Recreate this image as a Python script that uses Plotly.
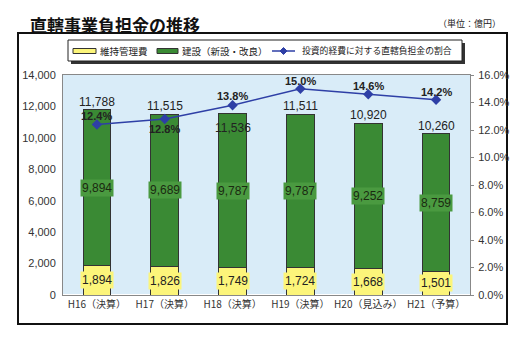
import plotly.graph_objects as go

categories = ["H16（決算）", "H17（決算）", "H18（決算）", "H19（決算）", "H20（見込み）", "H21（予算）"]
maintenance = [1894, 1826, 1749, 1724, 1668, 1501]
construction = [9894, 9689, 9787, 9787, 9252, 8759]
totals = [11788, 11515, 11536, 11511, 10920, 10260]
ratio = [12.4, 12.8, 13.8, 15.0, 14.6, 14.2]
series_names = ["維持管理費", "建設（新設・改良）", "投資的経費に対する直轄負担金の割合"]

W, H = 524, 348
ML, MR, MT, MB = 63, 54, 75, 53
PW, PH = W - ML - MR, H - MT - MB

def px_x(px):
    return (px - ML) / PW

def px_y(py):
    return (H - MB - py) / PH

FONT = "Liberation Sans, Arial, Noto Sans CJK JP"
JP = "Noto Sans CJK JP, Liberation Sans"
YELLOW = "#fcf57a"
GREEN = "#3a8a34"
BLUE = "#2e3fa6"

fig = go.Figure()
fig.add_trace(go.Bar(x=categories, y=maintenance, name=series_names[0],
                     marker=dict(color=YELLOW, line=dict(color="#333333", width=1)),
                     width=0.41))
fig.add_trace(go.Bar(x=categories, y=construction, name=series_names[1],
                     marker=dict(color=GREEN, line=dict(color="#333333", width=1)),
                     width=0.41))
fig.add_trace(go.Scatter(x=categories, y=ratio, name=series_names[2],
                         yaxis="y2", mode="lines+markers",
                         line=dict(color=BLUE, width=1.5),
                         marker=dict(symbol="diamond", size=8, color=BLUE)))

annotations = []
# style offsets (pixels) for label placement
total_shift = [8, 8, -14, 8, 8, 8]
ratio_shift = [9, -10, 9, 8, 8, 8]
for i, c in enumerate(categories):
    annotations.append(dict(x=c, y=totals[i], yref="y", text=f"{totals[i]:,}",
                            showarrow=False, yanchor="middle", yshift=total_shift[i],
                            font=dict(size=12, color="#222222", family=FONT)))
    annotations.append(dict(x=c, y=maintenance[i] + construction[i] / 2, yref="y",
                            text=f"{construction[i]:,}", showarrow=False,
                            bgcolor="#4a9a40", borderpad=1,
                            font=dict(size=12, color="#1a2a10", family=FONT)))
    annotations.append(dict(x=c, y=maintenance[i] / 2, yref="y",
                            text=f"{maintenance[i]:,}", showarrow=False,
                            bgcolor=YELLOW, borderpad=1,
                            font=dict(size=12, color="#222222", family=FONT)))
    annotations.append(dict(x=c, y=ratio[i], yref="y2", text=f"<b>{ratio[i]:.1f}%</b>",
                            showarrow=False, yshift=ratio_shift[i],
                            font=dict(size=11, color="#222222", family=FONT)))

annotations.append(dict(xref="paper", yref="paper", x=px_x(28), y=px_y(25),
                        xanchor="left", yanchor="middle", showarrow=False,
                        text="<b>直轄事業負担金の推移</b>",
                        font=dict(size=17, color="#111111", family=JP)))
annotations.append(dict(xref="paper", yref="paper", x=px_x(503), y=px_y(24),
                        xanchor="right", yanchor="middle", showarrow=False,
                        text="（単位：億円）",
                        font=dict(size=9, color="#222222", family=JP)))

shapes = [
    dict(type="rect", xref="paper", yref="paper",
         x0=px_x(18), x1=px_x(507), y0=px_y(324), y1=px_y(33),
         line=dict(color="#111111", width=2), layer="below"),
    # legend shadow and box
    dict(type="rect", xref="paper", yref="paper",
         x0=px_x(71), x1=px_x(465), y0=px_y(64), y1=px_y(43),
         fillcolor="#333333", line=dict(width=0)),
    dict(type="rect", xref="paper", yref="paper",
         x0=px_x(68), x1=px_x(462), y0=px_y(61), y1=px_y(40),
         fillcolor="white", line=dict(color="#222222", width=1)),
    # legend symbols
    dict(type="rect", xref="paper", yref="paper",
         x0=px_x(73), x1=px_x(96), y0=px_y(53.5), y1=px_y(48.5),
         fillcolor=YELLOW, line=dict(color="#333333", width=1)),
    dict(type="rect", xref="paper", yref="paper",
         x0=px_x(157), x1=px_x(178), y0=px_y(53.5), y1=px_y(48.5),
         fillcolor=GREEN, line=dict(color="#333333", width=1)),
    dict(type="line", xref="paper", yref="paper",
         x0=px_x(272), x1=px_x(295), y0=px_y(51), y1=px_y(51),
         line=dict(color=BLUE, width=1.5)),
    dict(type="path", xref="paper", yref="paper",
         path=(f"M {px_x(283.5)} {px_y(47.5)} L {px_x(287)} {px_y(51)} "
               f"L {px_x(283.5)} {px_y(54.5)} L {px_x(280)} {px_y(51)} Z"),
         fillcolor=BLUE, line=dict(color=BLUE, width=1)),
]

for name, xpos, fs in zip(series_names, [98, 180, 300], [9.5, 9.5, 8.8]):
    annotations.append(dict(xref="paper", yref="paper", x=px_x(xpos), y=px_y(51),
                            xanchor="left", yanchor="middle", showarrow=False,
                            text=name, font=dict(size=fs, color="#222222", family=JP)))

fig.update_layout(
    width=W, height=H,
    margin=dict(l=ML, r=MR, t=MT, b=MB),
    paper_bgcolor="white",
    plot_bgcolor="#d9ecf8",
    barmode="stack",
    showlegend=False,
    font=dict(family=FONT, color="#333333"),
    xaxis=dict(showline=True, linecolor="#888888", mirror=True, showgrid=False,
               ticks="", tickfont=dict(size=10, family=JP, color="#333333")),
    yaxis=dict(range=[0, 14000], dtick=2000, tickformat=",", showgrid=False,
               showline=True, linecolor="#888888", mirror=True, ticks="",
               ticklabelstandoff=4, tickfont=dict(size=11, color="#333333")),
    yaxis2=dict(range=[0, 16], dtick=2, tickformat=".1f", ticksuffix="%",
                overlaying="y", side="right", showgrid=False, ticks="outside",
                ticklen=3, tickcolor="#888888", ticklabelstandoff=2,
                tickfont=dict(size=11, color="#333333")),
    annotations=annotations,
    shapes=shapes,
)

fig.write_html("out.html")
